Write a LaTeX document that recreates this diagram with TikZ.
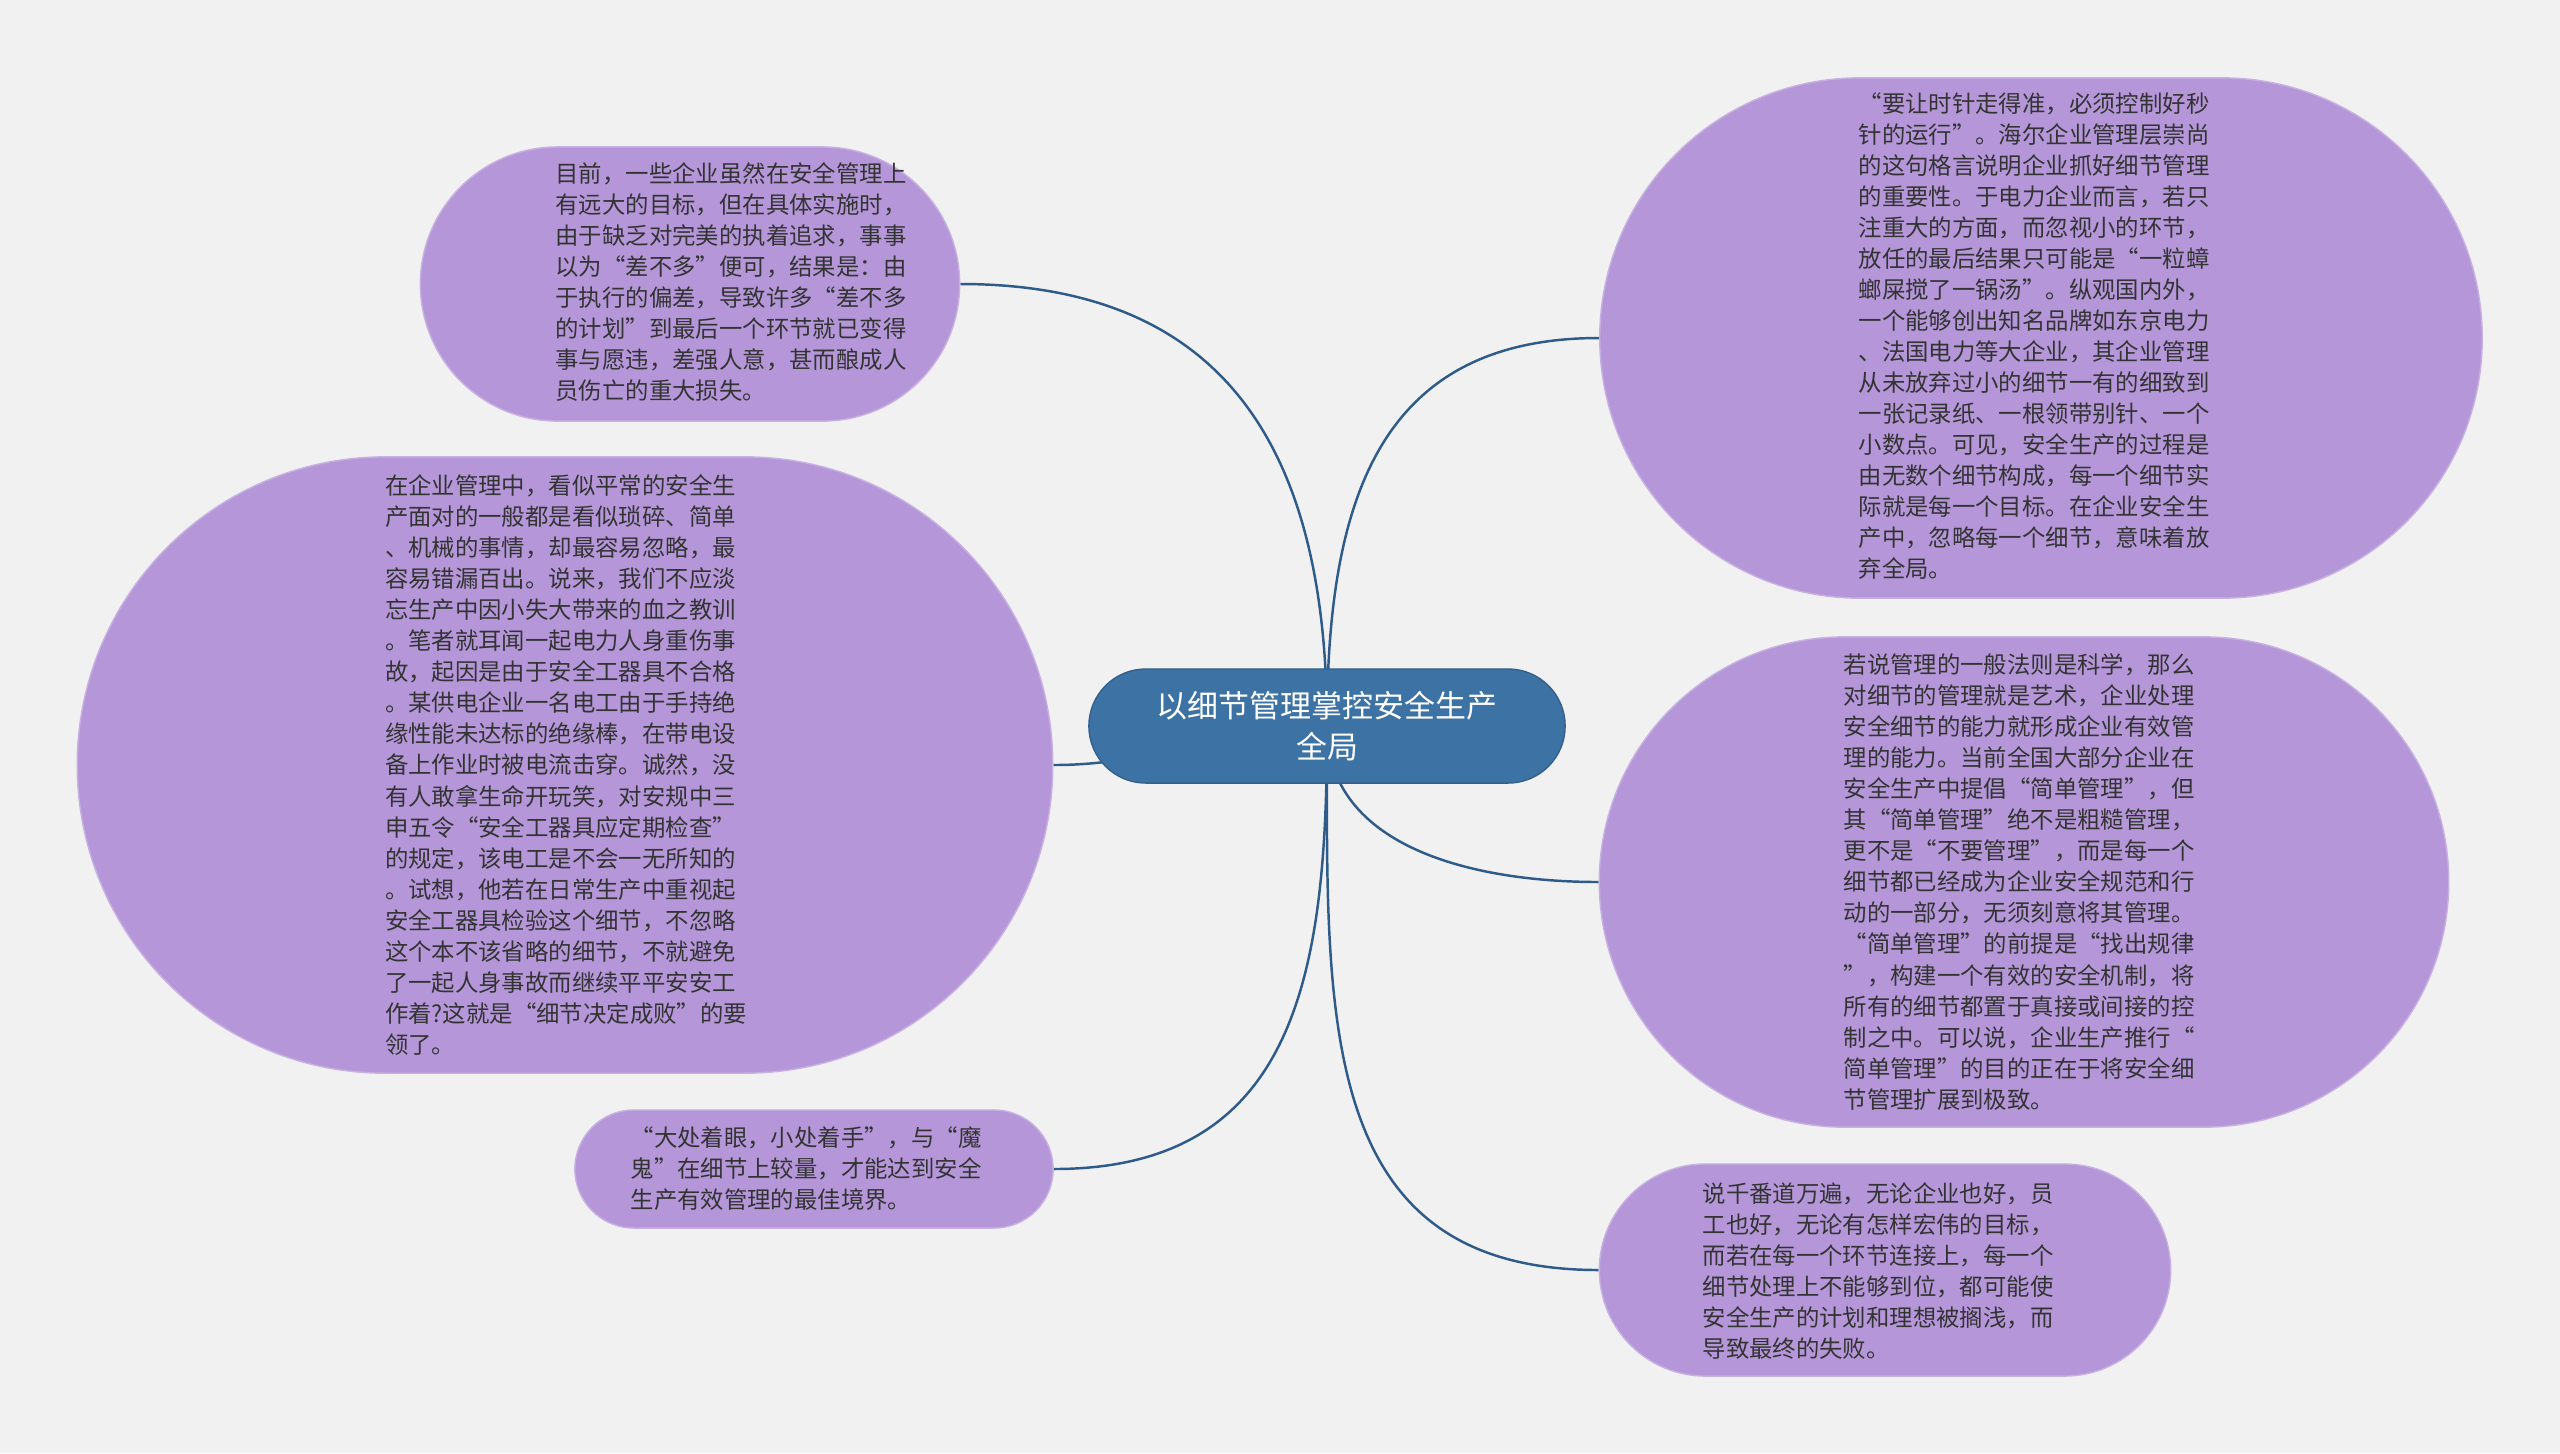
\documentclass[tikz,border=0pt]{standalone}
\usepackage{fontspec}
\setmainfont{Noto Sans CJK SC}
\definecolor{bgfill}{HTML}{F1F1F1}
\definecolor{leaffill}{HTML}{B597D9}
\definecolor{rootfill}{HTML}{3D72A5}
\definecolor{linkcol}{HTML}{2E5B8A}
\definecolor{textcol}{HTML}{333333}
\pgfdeclarelayer{back}
\pgfdeclarelayer{links}
\pgfsetlayers{back,links,main}
\begin{document}
\begin{tikzpicture}[x=0.01cm,y=-0.01cm,
    leaf/.style={fill=leaffill, draw=leaffill!75!white, line width=0.4pt, inner sep=0pt},
    leaftext/.style={text=textcol, align=left, inner sep=0pt, font=\fontsize{6.65pt}{8.82pt}\selectfont},
    rootbox/.style={fill=rootfill, draw=rootfill!85!black, line width=0.4pt, inner sep=0pt, text=white, align=center,
        font=\fontsize{8.8pt}{11.6pt}\selectfont, minimum width=4.76cm, minimum height=1.14cm, rounded corners=0.57cm},
    link/.style={draw=linkcol, line width=0.7pt}]
    \begin{pgfonlayer}{back}
        \fill[bgfill] (0,0) rectangle (2560,1453);
    \end{pgfonlayer}
    \useasboundingbox (0,0) rectangle (2560,1453);

    \node[rootbox] (root) at (1327,726) {以细节管理掌控安全生产\\全局};

    \node[leaf, minimum width=5.39cm, minimum height=2.74cm, rounded corners=1.37cm] (aim) at (690,284) {};
    \node[leaftext] (aim-t) at (731,282) {
        目前，一些企业虽然在安全管理上\\
        有远大的目标，但在具体实施时，\\
        由于缺乏对完美的执着追求，事事\\
        以为“差不多”便可，结果是：由\\
        于执行的偏差，导致许多“差不多\\
        的计划”到最后一个环节就已变得\\
        事与愿违，差强人意，甚而酿成人\\
        员伤亡的重大损失。};

    \node[leaf, minimum width=9.75cm, minimum height=6.16cm, rounded corners=3.08cm] (accident) at (565,765) {};
    \node[leaftext] (accident-t) at (566,765) {
        在企业管理中，看似平常的安全生\\
        产面对的一般都是看似琐碎、简单\\
        、机械的事情，却最容易忽略，最\\
        容易错漏百出。说来，我们不应淡\\
        忘生产中因小失大带来的血之教训\\
        。笔者就耳闻一起电力人身重伤事\\
        故，起因是由于安全工器具不合格\\
        。某供电企业一名电工由于手持绝\\
        缘性能未达标的绝缘棒，在带电设\\
        备上作业时被电流击穿。诚然，没\\
        有人敢拿生命开玩笑，对安规中三\\
        申五令“安全工器具应定期检查”\\
        的规定，该电工是不会一无所知的\\
        。试想，他若在日常生产中重视起\\
        安全工器具检验这个细节，不忽略\\
        这个本不该省略的细节，不就避免\\
        了一起人身事故而继续平平安安工\\
        作着?这就是“细节决定成败”的要\\
        领了。};

    \node[leaf, minimum width=4.78cm, minimum height=1.18cm, rounded corners=0.59cm] (devil) at (814,1169) {};
    \node[leaftext] (devil-t) at (806,1169) {
        “大处着眼，小处着手”，与“魔\\
        鬼”在细节上较量，才能达到安全\\
        生产有效管理的最佳境界。};

    \node[leaf, minimum width=8.82cm, minimum height=5.20cm, rounded corners=2.60cm] (clock) at (2041,338) {};
    \node[leaftext] (clock-t) at (2034,336) {
        “要让时针走得准，必须控制好秒\\
        针的运行”。海尔企业管理层崇尚\\
        的这句格言说明企业抓好细节管理\\
        的重要性。于电力企业而言，若只\\
        注重大的方面，而忽视小的环节，\\
        放任的最后结果只可能是“一粒蟑\\
        螂屎搅了一锅汤”。纵观国内外，\\
        一个能够创出知名品牌如东京电力\\
        、法国电力等大企业，其企业管理\\
        从未放弃过小的细节一有的细致到\\
        一张记录纸、一根领带别针、一个\\
        小数点。可见，安全生产的过程是\\
        由无数个细节构成，每一个细节实\\
        际就是每一个目标。在企业安全生\\
        产中，忽略每一个细节，意味着放\\
        弃全局。};

    \node[leaf, minimum width=8.49cm, minimum height=4.90cm, rounded corners=2.45cm] (simple) at (2024,882) {};
    \node[leaftext] (simple-t) at (2019,882) {
        若说管理的一般法则是科学，那么\\
        对细节的管理就是艺术，企业处理\\
        安全细节的能力就形成企业有效管\\
        理的能力。当前全国大部分企业在\\
        安全生产中提倡“简单管理”，但\\
        其“简单管理”绝不是粗糙管理，\\
        更不是“不要管理”，而是每一个\\
        细节都已经成为企业安全规范和行\\
        动的一部分，无须刻意将其管理。\\
        “简单管理”的前提是“找出规律\\
        ”，构建一个有效的安全机制，将\\
        所有的细节都置于真接或间接的控\\
        制之中。可以说，企业生产推行“\\
        简单管理”的目的正在于将安全细\\
        节管理扩展到极致。};

    \node[leaf, minimum width=5.71cm, minimum height=2.12cm, rounded corners=1.06cm] (failure) at (1885,1270) {};
    \node[leaftext] (failure-t) at (1878,1271) {
        说千番道万遍，无论企业也好，员\\
        工也好，无论有怎样宏伟的目标，\\
        而若在每一个环节连接上，每一个\\
        细节处理上不能够到位，都可能使\\
        安全生产的计划和理想被搁浅，而\\
        导致最终的失败。};

    \begin{pgfonlayer}{links}
        \draw[link] (root.center) to[out=90, in=0, looseness=1.2] (aim.east);
        \draw[link] (root.center) to[out=90, in=180, looseness=1.2] (clock.west);
        \draw[link] (root.center) to[out=180, in=0] (accident.east);
        \draw[link] (root.center) to[out=-90, in=0, looseness=1.2] (devil.east);
        \draw[link] (root.center) to[out=-90, in=180] (simple.west);
        \draw[link] (root.center) to[out=-90, in=180, looseness=1.2] (failure.west);
    \end{pgfonlayer}
\end{tikzpicture}
\end{document}
